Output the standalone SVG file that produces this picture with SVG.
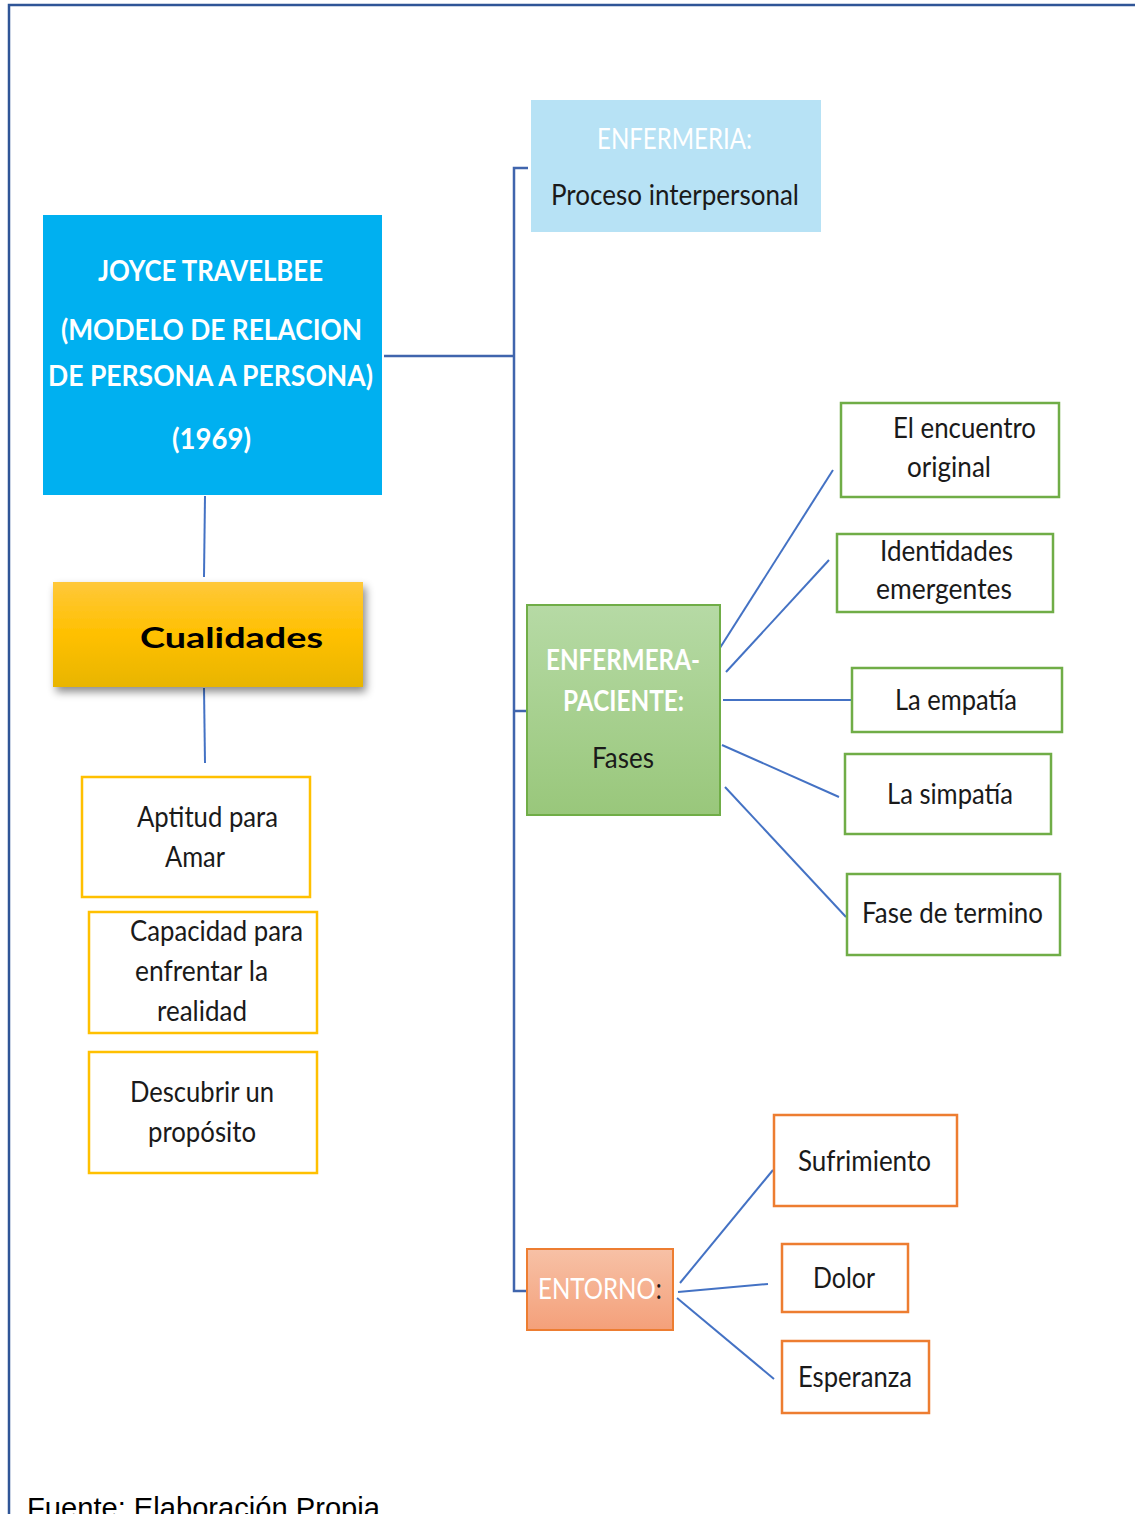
<svg xmlns="http://www.w3.org/2000/svg" width="1135" height="1514" viewBox="0 0 1135 1514">
<style>
.t{font-family:Lato,"Liberation Sans",sans-serif;font-size:28px;fill:#1a1a1a}
.w{fill:#ffffff}
.b{font-weight:bold}
.con{fill:none;stroke:#4472C4;stroke-width:2}
.trunk{fill:none;stroke:#4065AD;stroke-width:2.5}
.yb{fill:#fff;stroke:#FFC000;stroke-width:2.5}
.gb{fill:#fff;stroke:#70AD47;stroke-width:2.5}
.ob{fill:#fff;stroke:#ED7D31;stroke-width:2.5}
</style>
<defs>
<linearGradient id="gY" x1="0" y1="0" x2="0" y2="1">
<stop offset="0" stop-color="#FFC83A"/><stop offset="0.5" stop-color="#FFC000"/><stop offset="1" stop-color="#E8B500"/>
</linearGradient>
<linearGradient id="gG" x1="0" y1="0" x2="0" y2="1">
<stop offset="0" stop-color="#B6DAA5"/><stop offset="1" stop-color="#99C77B"/>
</linearGradient>
<linearGradient id="gO" x1="0" y1="0" x2="0" y2="1">
<stop offset="0" stop-color="#F7C1A6"/><stop offset="1" stop-color="#F4A07A"/>
</linearGradient>
<filter id="sh" x="-10%" y="-20%" width="125%" height="150%">
<feDropShadow dx="3" dy="5" stdDeviation="4" flood-color="#000" flood-opacity="0.45"/>
</filter>
</defs>
<rect width="1135" height="1514" fill="#fff"/>
<g id="frame"><path d="M9,1514 V5 H1135" fill="none" stroke="#2F5597" stroke-width="2.5"/></g>

<g id="connectors">
<path class="trunk" d="M384,356 H514"/>
<path class="trunk" d="M528,168 H514 V1291 H527"/>
<path class="trunk" d="M514,711 H527"/>
<path class="con" d="M205,496 L204,577"/>
<path class="con" d="M204,688 L205,763"/>
<path class="con" d="M718,651 L833,470"/>
<path class="con" d="M726,672 L829,560"/>
<path class="con" d="M723,700 L852,700"/>
<path class="con" d="M722,745 L839,797"/>
<path class="con" d="M725,787 L846,917"/>
<path class="con" d="M680,1283 L773,1170"/>
<path class="con" d="M678,1292 L768,1284"/>
<path class="con" d="M677,1298 L774,1379"/>
</g>

<g id="main">
<rect x="43" y="215" width="339" height="280" fill="#00B0F0"/>
<text class="t w b" x="98" y="281" font-size="35" textLength="225" lengthAdjust="spacingAndGlyphs">JOYCE TRAVELBEE</text>
<text class="t w b" x="61" y="340" font-size="35" textLength="301" lengthAdjust="spacingAndGlyphs">(MODELO DE RELACION</text>
<text class="t w b" x="48" y="386" font-size="35" textLength="325" lengthAdjust="spacingAndGlyphs">DE PERSONA A PERSONA)</text>
<text class="t w b" x="172" y="449" font-size="35" textLength="79" lengthAdjust="spacingAndGlyphs">(1969)</text>
</g>

<g id="enfermeria">
<rect x="531" y="100" width="290" height="132" fill="#B7E2F5"/>
<text class="t w" x="597" y="149" font-size="24" textLength="155" lengthAdjust="spacingAndGlyphs">ENFERMERIA:</text>
<text class="t" x="551" y="205" textLength="248" lengthAdjust="spacingAndGlyphs">Proceso interpersonal</text>
</g>

<g id="cualidades">
<rect x="53" y="582" width="310" height="105" fill="url(#gY)" filter="url(#sh)"/>
<text class="t b" x="140" y="648" font-size="45" textLength="183" lengthAdjust="spacingAndGlyphs" style="fill:#000">Cualidades</text>
</g>

<g id="aptitud">
<rect class="yb" x="82" y="777" width="228" height="120"/>
<text class="t" x="137" y="827" textLength="141" lengthAdjust="spacingAndGlyphs">Aptitud para</text>
<text class="t" x="165" y="867" textLength="60" lengthAdjust="spacingAndGlyphs">Amar</text>
</g>
<g id="capacidad">
<rect class="yb" x="89" y="912" width="228" height="121"/>
<text class="t" x="130" y="941" textLength="173" lengthAdjust="spacingAndGlyphs">Capacidad para</text>
<text class="t" x="135" y="981" textLength="133" lengthAdjust="spacingAndGlyphs">enfrentar la</text>
<text class="t" x="157" y="1021" textLength="90" lengthAdjust="spacingAndGlyphs">realidad</text>
</g>
<g id="descubrir">
<rect class="yb" x="89" y="1052" width="228" height="121"/>
<text class="t" x="130" y="1102" textLength="144" lengthAdjust="spacingAndGlyphs">Descubrir un</text>
<text class="t" x="148" y="1142" textLength="108" lengthAdjust="spacingAndGlyphs">propósito</text>
</g>

<g id="enfermera-paciente">
<rect x="527" y="605" width="193" height="210" fill="url(#gG)" stroke="#70AD47" stroke-width="2"/>
<text class="t w b" x="546" y="670" font-size="29" textLength="154" lengthAdjust="spacingAndGlyphs">ENFERMERA-</text>
<text class="t w b" x="563" y="711" font-size="29" textLength="121" lengthAdjust="spacingAndGlyphs">PACIENTE:</text>
<text class="t" x="592" y="768" textLength="62" lengthAdjust="spacingAndGlyphs">Fases</text>
</g>

<g id="encuentro">
<rect class="gb" x="841" y="403" width="218" height="94"/>
<text class="t" x="893" y="438" textLength="143" lengthAdjust="spacingAndGlyphs">El encuentro</text>
<text class="t" x="907" y="477" textLength="84" lengthAdjust="spacingAndGlyphs">original</text>
</g>
<g id="identidades">
<rect class="gb" x="837" y="534" width="216" height="78"/>
<text class="t" x="880" y="561" textLength="133" lengthAdjust="spacingAndGlyphs">Identidades</text>
<text class="t" x="876" y="599" textLength="136" lengthAdjust="spacingAndGlyphs">emergentes</text>
</g>
<g id="empatia">
<rect class="gb" x="852" y="668" width="210" height="64"/>
<text class="t" x="895" y="710" textLength="122" lengthAdjust="spacingAndGlyphs">La empatía</text>
</g>
<g id="simpatia">
<rect class="gb" x="845" y="754" width="206" height="80"/>
<text class="t" x="887" y="804" textLength="126" lengthAdjust="spacingAndGlyphs">La simpatía</text>
</g>
<g id="termino">
<rect class="gb" x="847" y="874" width="213" height="81"/>
<text class="t" x="862" y="923" textLength="181" lengthAdjust="spacingAndGlyphs">Fase de termino</text>
</g>

<g id="entorno">
<rect x="527" y="1249" width="146" height="81" fill="url(#gO)" stroke="#ED7D31" stroke-width="2"/>
<text class="t" transform="translate(538,1299) scale(0.86,1)" font-size="29"><tspan class="w">ENTORNO</tspan>:</text>
</g>

<g id="sufrimiento">
<rect class="ob" x="774" y="1115" width="183" height="91"/>
<text class="t" x="798" y="1171" textLength="133" lengthAdjust="spacingAndGlyphs">Sufrimiento</text>
</g>
<g id="dolor">
<rect class="ob" x="782" y="1244" width="126" height="68"/>
<text class="t" x="813" y="1288" textLength="62" lengthAdjust="spacingAndGlyphs">Dolor</text>
</g>
<g id="esperanza">
<rect class="ob" x="782" y="1341" width="147" height="72"/>
<text class="t" x="798" y="1387" textLength="114" lengthAdjust="spacingAndGlyphs">Esperanza</text>
</g>

<text x="27" y="1518" font-family="'Liberation Sans',Arial,sans-serif" font-size="29" fill="#000" textLength="353" lengthAdjust="spacingAndGlyphs">Fuente: Elaboración Propia</text>
</svg>
